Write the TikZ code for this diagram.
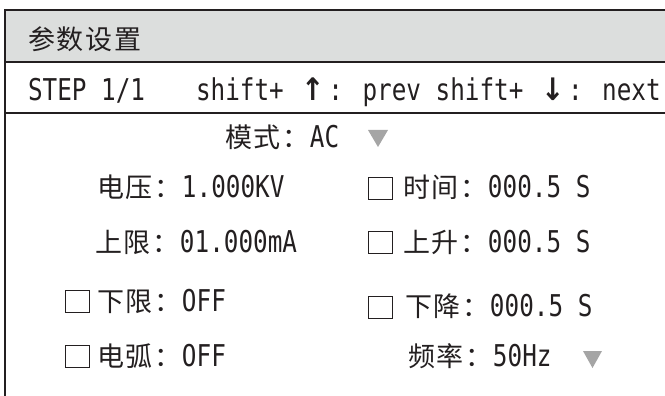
\documentclass[tikz,border=0pt]{standalone}
\usepackage{fontspec}
\newfontfamily\cjkfont{Noto Sans CJK SC}[LetterSpace=7.4]
\newfontfamily\monofont{DejaVu Sans Mono}[FakeStretch=0.81]
\newfontfamily\arrowfont{DejaVu Sans}[FakeStretch=0.9]
\definecolor{ink}{RGB}{35,31,32}
\definecolor{hdrgray}{RGB}{220,222,221}
\definecolor{trigray}{RGB}{165,165,165}
\newcommand\zh[1]{{\fontsize{27}{30}\cjkfont #1}}
\newcommand\la[1]{{\fontsize{30}{30}\monofont #1}}
\newcommand\arr[1]{\makebox[30pt][c]{\fontsize{31}{30}\arrowfont\bfseries #1}}
\tikzset{
  lbl/.style={anchor=base west, inner sep=0pt, outer sep=0pt, text=ink},
  chk/.style={draw=ink, line width=1.3pt, fill=white, minimum width=24pt, minimum height=22pt, inner sep=0pt, anchor=north west},
  rule/.style={draw=ink, line width=1.4pt},
  tri/.style={fill=trigray}
}
\begin{document}
\begin{tikzpicture}[x=1pt,y=-1pt]
\useasboundingbox (0,0) rectangle (665,396);
% header band and frame
\fill[hdrgray] (5,10) rectangle (665,62);
\draw[rule, line width=2pt] (665,10) -- (5,10) -- (5,396);
\draw[rule] (5,62) -- (665,62);
\draw[rule] (5,113) -- (665,113);
% header rows
\node[lbl] (title) at (28,50) {\zh{参数设置}};
\node[lbl] (step) at (28,101) {\la{STEP 1/1}};
\node[lbl] (keys) at (196,101) {\la{shift+ }\arr{↑}\la{: prev shift+ }\arr{↓}\la{: next}};
% mode
\node[lbl] (mode) at (225,148) {\zh{模式：}\la{AC}};
\fill[tri] (368,130) -- (388,130) -- (378,147) -- cycle;
% row 1
\node[lbl] (volt) at (97,197) {\zh{电压：}\la{1.000KV}};
\node[chk] (cbtime) at (368,177) {};
\node[lbl] (time) at (403,197) {\zh{时间：}\la{000.5 S}};
% row 2
\node[lbl] (hi) at (95,252) {\zh{上限：}\la{01.000mA}};
\node[chk] (cbrise) at (368,231) {};
\node[lbl] (rise) at (403,252) {\zh{上升：}\la{000.5 S}};
% row 3
\node[chk] (cblo) at (65,290) {};
\node[lbl] (lo) at (97,311) {\zh{下限：}\la{OFF}};
\node[chk] (cbfall) at (368,296) {};
\node[lbl] (fall) at (405,316) {\zh{下降：}\la{000.5 S}};
% row 4
\node[chk] (cbarc) at (65,345) {};
\node[lbl] (arc) at (97,366) {\zh{电弧：}\la{OFF}};
\node[lbl] (freq) at (408,366) {\zh{频率：}\la{50Hz}};
\fill[tri] (583,351) -- (602,351) -- (592.5,368) -- cycle;
\end{tikzpicture}
\end{document}
